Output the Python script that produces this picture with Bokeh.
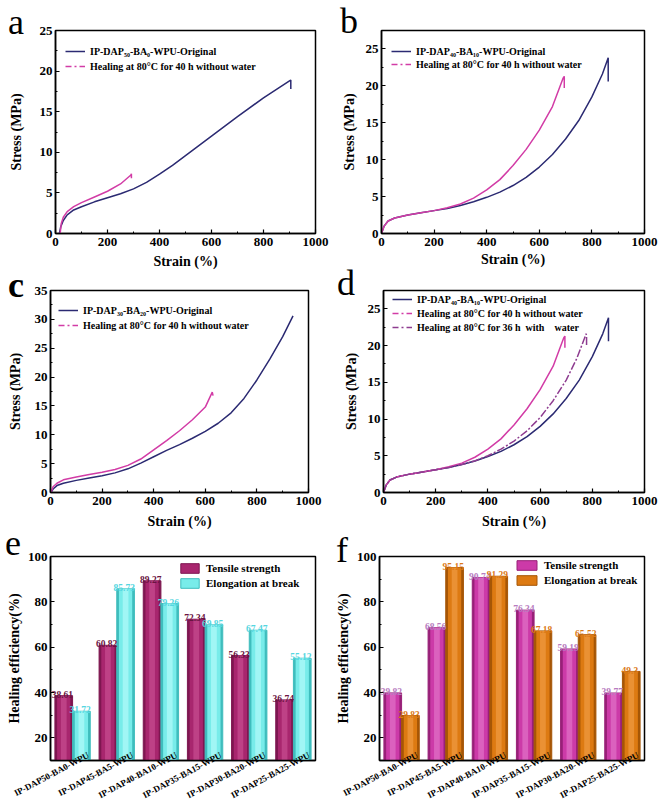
import math
from bokeh.plotting import figure
from bokeh.layouts import column, row
from bokeh.models import (Range1d, Legend, LegendItem, SingleIntervalTicker,
                          FixedTicker, ColumnDataSource, Div)
from bokeh.embed import file_html
from bokeh.resources import INLINE
from bokeh.core.properties import value

FONT = "Liberation Serif"
NAVY = "#2B2A72"
MAGENTA = "#D23CA6"
PURPLE = "#8E3C90"

# ---------------- data: stress-strain curves ----------------
a_orig_strain = [15, 20, 30, 45, 70, 100, 150, 200, 250, 300, 350, 400, 450, 500, 600, 700, 800, 900, 905, 905]
a_orig_stress = [0, 0.8, 1.6, 2.3, 2.9, 3.3, 3.9, 4.4, 4.9, 5.5, 6.3, 7.3, 8.4, 9.6, 12.0, 14.4, 16.7, 18.8, 18.9, 17.8]
a_heal_strain = [18, 22, 30, 45, 70, 100, 150, 200, 250, 290, 292, 292]
a_heal_stress = [0, 1.2, 2.0, 2.7, 3.3, 3.8, 4.5, 5.2, 6.1, 7.2, 7.35, 6.8]

b_orig_strain = [0, 10, 25, 50, 100, 150, 200, 250, 300, 350, 400, 450, 500, 550, 600, 650, 700, 750, 800, 840, 860, 862, 862]
b_orig_stress = [0, 1.0, 1.7, 2.1, 2.5, 2.8, 3.1, 3.4, 3.8, 4.3, 4.9, 5.6, 6.5, 7.6, 9.0, 10.7, 12.8, 15.3, 18.5, 21.6, 23.6, 23.8, 20.6]
b_heal_strain = [0, 10, 25, 50, 100, 150, 200, 250, 300, 350, 400, 450, 500, 550, 600, 650, 690, 695, 695]
b_heal_stress = [0, 1.0, 1.7, 2.1, 2.5, 2.8, 3.1, 3.5, 4.0, 4.8, 5.9, 7.3, 9.2, 11.4, 14.0, 17.2, 21.0, 21.3, 19.7]

c_orig_strain = [2, 10, 25, 50, 100, 150, 200, 250, 300, 350, 400, 450, 500, 550, 600, 650, 700, 750, 800, 850, 900, 940]
c_orig_stress = [0, 0.6, 1.2, 1.6, 2.1, 2.5, 2.9, 3.4, 4.1, 5.1, 6.2, 7.3, 8.3, 9.4, 10.6, 12.0, 13.8, 16.3, 19.5, 23.1, 27.0, 30.6]
c_heal_strain = [2, 10, 25, 50, 100, 150, 200, 250, 300, 350, 400, 450, 500, 550, 600, 627, 630]
c_heal_stress = [0, 1.0, 1.6, 2.2, 2.7, 3.1, 3.5, 4.0, 4.7, 5.8, 7.4, 9.0, 10.7, 12.6, 14.8, 17.4, 16.8]

d_water_strain = [0, 10, 25, 50, 100, 150, 200, 250, 300, 350, 400, 450, 500, 550, 600, 650, 700, 740, 770, 776, 778, 778]
d_water_stress = [0, 1.0, 1.7, 2.1, 2.5, 2.8, 3.1, 3.4, 3.8, 4.3, 5.0, 5.9, 7.0, 8.4, 10.2, 12.5, 15.3, 18.2, 21.0, 21.6, 21.4, 19.9]

# ---------------- data: healing efficiency bars ----------------
categories = ["IP-DAP50-BA0-WPU", "IP-DAP45-BA5-WPU", "IP-DAP40-BA10-WPU",
              "IP-DAP35-BA15-WPU", "IP-DAP30-BA20-WPU", "IP-DAP25-BA25-WPU"]
e_tensile = [38.61, 60.82, 89.27, 72.34, 56.33, 36.74]
e_elong = [31.72, 85.73, 79.26, 69.85, 67.47, 55.12]
f_tensile = [39.82, 68.56, 90.74, 76.34, 59.19, 39.77]
f_elong = [29.83, 95.15, 91.29, 67.18, 65.52, 49.3]

panel_tags = ["a", "b", "c", "d", "e", "f"]


def style_axis(ax, label_size="13px", axis_label_size="14px", lstand=3, astand=3):
    ax.axis_line_width = 1.5
    ax.axis_line_color = "black"
    ax.major_tick_in = 4
    ax.major_tick_out = 0
    ax.minor_tick_in = 2
    ax.minor_tick_out = 0
    ax.major_tick_line_width = 1.2
    ax.minor_tick_line_width = 1
    ax.major_label_text_font = FONT
    ax.major_label_text_font_style = "bold"
    ax.major_label_text_font_size = label_size
    ax.major_label_text_color = "black"
    ax.major_label_standoff = lstand
    ax.axis_label_text_font = FONT
    ax.axis_label_text_font_style = "bold"
    ax.axis_label_text_font_size = axis_label_size
    ax.axis_label_text_color = "black"
    ax.axis_label_standoff = astand


def make_fig(w, h, xr, yr, borders):
    lb, rb, tb, bb = borders
    p = figure(width=w, height=h, x_range=Range1d(*xr), y_range=Range1d(*yr),
               output_backend="svg", toolbar_location=None,
               min_border_left=lb, min_border_right=rb,
               min_border_top=tb, min_border_bottom=bb)
    p.xgrid.visible = False
    p.ygrid.visible = False
    p.outline_line_color = "black"
    p.outline_line_width = 1.5
    p.outline_line_alpha = 1.0
    p.background_fill_color = "white"
    p.border_fill_color = "white"
    return p


def curve_panel(w, h, yr, borders, xstand, ystand, curves, leg_pos, leg_spacing):
    p = make_fig(w, h, (0, 1000), yr, borders)
    p.xaxis.ticker = SingleIntervalTicker(interval=200, num_minor_ticks=2)
    p.yaxis.ticker = SingleIntervalTicker(interval=5, num_minor_ticks=2)
    p.xaxis.axis_label = "Strain (%)"
    p.yaxis.axis_label = "Stress (MPa)"
    style_axis(p.xaxis[0], lstand=4, astand=xstand)
    style_axis(p.yaxis[0], lstand=3, astand=ystand)
    items = []
    for xs, ys, col, label, dash, leg_dash in curves:
        r = p.line(xs, ys, line_color=col, line_width=1.5, line_dash=dash)
        if leg_dash == "solid":
            items.append(LegendItem(label=label, renderers=[r]))
        else:
            # legend-only sample (kept outside the visible range)
            d = p.line([-200, -100], [-50, -50], line_color=col, line_width=1.5, line_dash=leg_dash)
            items.append(LegendItem(label=label, renderers=[d]))
    leg = Legend(items=items, location=leg_pos, padding=0, margin=0, spacing=leg_spacing,
                 glyph_width=20, glyph_height=12, label_height=12, label_standoff=5,
                 label_text_font=FONT, label_text_font_style="bold", label_text_font_size="10px",
                 label_text_color="black",
                 background_fill_alpha=0, border_line_alpha=0)
    p.add_layout(leg)
    return p


DD = "6 3 2 3"

pa = curve_panel(329, 272, (0, 25), (55, 14, 28, 39), 5, 13,
                 [(a_orig_strain, a_orig_stress, NAVY, "IP-DAP\u2085\u2080-BA\u2080-WPU-Original", "solid", "solid"),
                  (a_heal_strain, a_heal_stress, MAGENTA, "Healing at 80\u00b0C for 40 h without water", "solid", DD)],
                 (10, 161), 3)

pb = curve_panel(329, 272, (0, 27.5), (52, 14, 30, 37), 3, 6,
                 [(b_orig_strain, b_orig_stress, NAVY, "IP-DAP\u2084\u2080-BA\u2081\u2080-WPU-Original", "solid", "solid"),
                  (b_heal_strain, b_heal_stress, MAGENTA, "Healing at 80\u00b0C for 40 h without water", "solid", DD)],
                 (10, 163), 1)

pc = curve_panel(329, 260, (0, 35), (50, 21, 18, 40), 6, 9,
                 [(c_orig_strain, c_orig_stress, NAVY, "IP-DAP\u2083\u2080-BA\u2082\u2080-WPU-Original", "solid", "solid"),
                  (c_heal_strain, c_heal_stress, MAGENTA, "Healing at 80\u00b0C for 40 h without water", "solid", DD)],
                 (8, 161), 3)

pd = curve_panel(329, 260, (0, 27.5), (54, 14, 16, 40), 6, 6,
                 [(b_orig_strain, b_orig_stress, NAVY, "IP-DAP\u2084\u2080-BA\u2081\u2080-WPU-Original", "solid", "solid"),
                  (b_heal_strain, b_heal_stress, MAGENTA, "Healing at 80\u00b0C for 40 h without water", "solid", DD),
                  (d_water_strain, d_water_stress, PURPLE, "Healing at 80\u00b0C for 36 h  with    water", "8 2 2 2", DD)],
                 (9, 159), 2)


def bar_panel(w, h, borders, ts, el, cols_t, cols_e, lab_t, lab_e, leg_pos, leg_gw):
    p = make_fig(w, h, (0, len(categories)), (10, 100), borders)
    p.yaxis.ticker = SingleIntervalTicker(interval=20, num_minor_ticks=2)
    p.yaxis.axis_label = "Healing efficiency(%)"
    style_axis(p.xaxis[0], label_size="9px")
    style_axis(p.yaxis[0], lstand=3, astand=3)
    xc = [i + 0.5 for i in range(len(categories))]
    label_pos = [round(x + 0.36, 2) for x in xc]
    p.xaxis.ticker = FixedTicker(ticks=label_pos)
    p.xaxis.major_label_overrides = {lp: cat for lp, cat in zip(label_pos, categories)}
    p.xaxis.major_label_orientation = math.radians(28)
    p.xaxis.major_label_standoff = -6
    p.xaxis.major_tick_in = 0
    p.xaxis.major_tick_out = 0
    p.xaxis.minor_tick_in = 0
    p.xaxis.minor_tick_out = 0
    xt = [x - 0.2 for x in xc]
    xe = [x + 0.2 for x in xc]
    src = ColumnDataSource(dict(xt=xt, xe=xe, ts=ts, el=el,
                                tl=[f"{v:g}" for v in ts], electl=[f"{v:g}" for v in el],
                                xtl=[x - 0.03 for x in xt], xel=[x - 0.03 for x in xe],
                                yt=[v + 0.6 for v in ts], ye=[v + 0.6 for v in el]))
    for xk, yk, cols in (("xt", "ts", cols_t), ("xe", "el", cols_e)):
        dark, mid, light = cols
        p.vbar(x=xk, top=yk, bottom=0, width=0.4, source=src, fill_color=dark,
               line_color=dark, line_width=1)
        p.vbar(x=xk, top=yk, bottom=0, width=0.3, source=src, fill_color=mid,
               line_color=None)
        p.vbar(x=xk, top=yk, bottom=0, width=0.13, source=src, fill_color=light,
               fill_alpha=0.55, line_color=None)
    p.text(x="xtl", y="yt", text="tl", source=src, text_font=value(FONT),
           text_font_style="bold", text_font_size="9.5px", text_align="center",
           text_baseline="alphabetic", text_color=lab_t)
    p.text(x="xel", y="ye", text="electl", source=src, text_font=value(FONT),
           text_font_style="bold", text_font_size="9.5px", text_align="center",
           text_baseline="alphabetic", text_color=lab_e)
    # legend-only samples (kept outside the visible range)
    lt = p.vbar(x=[-5], top=[0], width=0.4, fill_color=cols_t[1], line_color=cols_t[0], line_width=1)
    le = p.vbar(x=[-5], top=[0], width=0.4, fill_color=cols_e[1], line_color=cols_e[0], line_width=1)
    leg = Legend(items=[LegendItem(label="Tensile strength", renderers=[lt]),
                        LegendItem(label="Elongation at break", renderers=[le])],
                 location=leg_pos, padding=0, margin=0, spacing=3,
                 glyph_width=leg_gw, glyph_height=12, label_height=12, label_standoff=5,
                 label_text_font=FONT, label_text_font_style="bold", label_text_font_size="11px",
                 label_text_color="black", background_fill_alpha=0, border_line_alpha=0)
    p.add_layout(leg)
    return p


pe = bar_panel(329, 275, (50, 14, 24, 41), e_tensile, e_elong,
               ("#7E1650", "#A8266E", "#D0579A"), ("#3FBDBD", "#78ECEA", "#C2FFFD"),
               "#6A1442", "#55D6E0", (128, 171), 23)

pf = bar_panel(329, 275, (50, 14, 18, 42), f_tensile, f_elong,
               ("#982078", "#CC3AA8", "#E882D0"), ("#A65606", "#DD7A12", "#F4A450"),
               "#B77CC0", "#DB7A18", (135, 174), 25)

# panel letters as an overlay (outside the plot frames)
tag_pos = [(3, -1, False), (335, -2, False), (3, 262, True), (332, 260, False), (0, 520, False), (331, 527, False)]
spans = "".join(
    f'<span style="position:absolute;left:{x}px;top:{y}px;font-family:\'Liberation Serif\';'
    f'font-size:36px;line-height:36px;font-weight:{"bold" if b else "normal"};color:black;">{t}</span>'
    for t, (x, y, b) in zip(panel_tags, tag_pos))
overlay = Div(text=spans, width=1, height=1,
              styles={"position": "absolute", "left": "0px", "top": "0px",
                      "overflow": "visible", "z-index": "10"})

layout = column(row(pa, pb), row(pc, pd), row(pe, pf), overlay)

with open("out.html", "w") as fh:
    fh.write(file_html(layout, INLINE, "chart"))
